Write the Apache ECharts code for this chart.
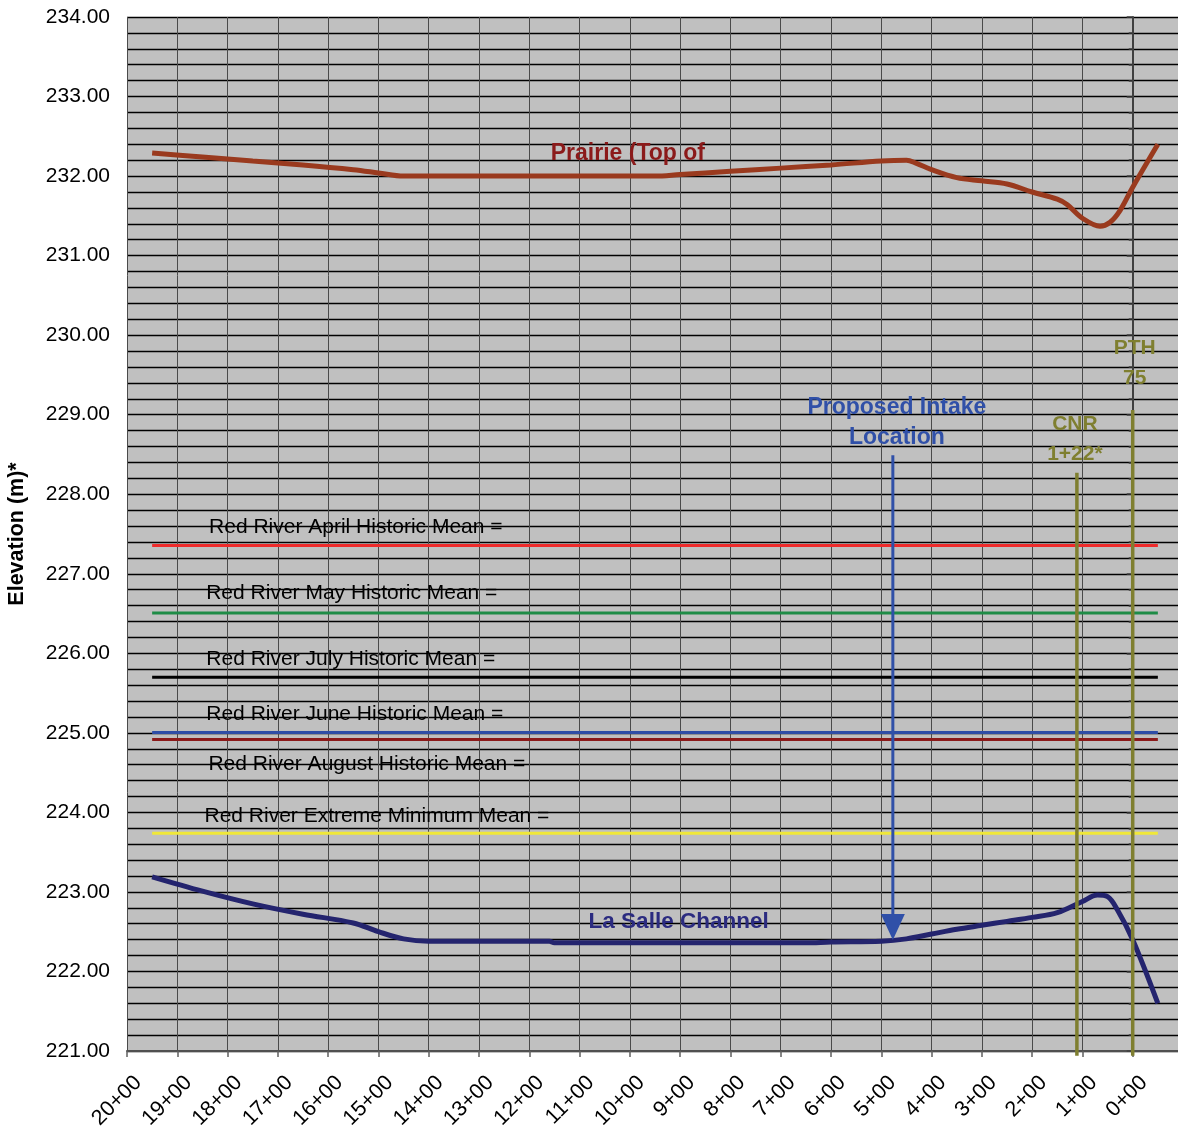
<!DOCTYPE html>
<html>
<head>
<meta charset="utf-8">
<script src="https://cdn.jsdelivr.net/npm/echarts@6/dist/echarts.min.js"></script>
<style>
html,body{margin:0;padding:0;background:#ffffff;}
#chart{width:1178px;height:1132px;}
</style>
</head>
<body>
<div id="chart"></div>
<script>
// ---- data ----
const prairieStations = [19.5, 18.5, 17.5, 16.5, 15.5, 15.0, 14.5, 14.0, 13.0, 12.0, 11.0, 10.0, 9.5, 9.0, 8.0, 7.0, 6.0, 5.0, 4.5, 4.3, 4.0, 3.5, 3.0, 2.5, 2.0, 1.5, 1.3, 1.0, 0.65, 0.45, 0.25, 0.0, -0.5];
const prairieElev     = [232.29, 232.24, 232.19, 232.14, 232.08, 232.04, 232.00, 232.00, 232.00, 232.00, 232.00, 232.00, 232.00, 232.02, 232.06, 232.10, 232.14, 232.19, 232.20, 232.16, 232.08, 231.98, 231.94, 231.90, 231.80, 231.71, 231.64, 231.47, 231.37, 231.42, 231.57, 231.86, 232.40];

const laSalleStations = [19.5, 18.5, 17.5, 16.5, 15.5, 15.0, 14.5, 14.0, 13.0, 12.0, 11.6, 11.5, 10.0, 9.0, 8.0, 7.0, 6.5, 6.0, 5.0, 4.5, 4.0, 3.5, 3.0, 2.5, 2.0, 1.5, 1.0, 0.7, 0.5, 0.3, 0.0, -0.5];
const laSalleElev     = [223.19, 223.01, 222.85, 222.72, 222.61, 222.50, 222.41, 222.38, 222.38, 222.38, 222.38, 222.36, 222.36, 222.36, 222.36, 222.36, 222.36, 222.37, 222.38, 222.41, 222.47, 222.53, 222.58, 222.63, 222.68, 222.74, 222.88, 222.96, 222.94, 222.77, 222.40, 221.60];

const meanNames  = ['Red River April Historic Mean =', 'Red River May Historic Mean =', 'Red River July Historic Mean =', 'Red River June Historic Mean =', 'Red River August Historic Mean =', 'Red River Extreme Minimum Mean ='];
const meanValues = [227.354, 226.507, 225.700, 225.004, 224.917, 223.738];
const meanFrom = 19.5;
const meanTo = -0.5;

const cnrStation = 1.11;
const cnrTop = 228.27;
const pthStation = 0.0;
const pthTop = 229.06;
const crossingBottom = 220.94;

const intakeStation = 4.77;
const intakeTop = 228.49;
const intakeTip = 222.56;

const stationTicks = [20, 19, 18, 17, 16, 15, 14, 13, 12, 11, 10, 9, 8, 7, 6, 5, 4, 3, 2, 1, 0];

// ---- styles ----
const FONT = 'Liberation Sans, Arial, sans-serif';
const meanColors = ['#EE2A2A', '#1E8C46', '#000000', '#2E4DA6', '#8B1A1A', '#F0E838'];
const meanLabelAt = [[15.45, 227.58], [15.53, 226.75], [15.55, 225.92], [15.47, 225.24], [15.23, 224.61], [15.03, 223.95]];

function pairs(xs, ys) { return xs.map((x, i) => [x, ys[i]]); }

const series = [];

series.push({
  name: 'Prairie (Top of Bank)*', type: 'line', smooth: 0.35, symbol: 'none',
  data: pairs(prairieStations, prairieElev),
  lineStyle: { color: '#9A3A1E', width: 5 }, z: 5
});
series.push({
  name: 'La Salle Channel', type: 'line', smooth: 0.35, symbol: 'none',
  data: pairs(laSalleStations, laSalleElev),
  lineStyle: { color: '#24246E', width: 5 }, z: 5
});
meanValues.forEach((v, i) => {
  series.push({
    name: meanNames[i], type: 'line', symbol: 'none',
    data: [[meanFrom, v], [meanTo, v]],
    lineStyle: { color: meanColors[i], width: 3 }, z: 4
  });
});
// crossings
series.push({
  name: 'CNR', type: 'line', symbol: 'none', clip: false,
  data: [[cnrStation, crossingBottom], [cnrStation, cnrTop]],
  lineStyle: { color: '#7F7F30', width: 3.5 }, z: 6
});
series.push({
  name: 'PTH 75', type: 'line', symbol: 'none', clip: false,
  data: [[pthStation, crossingBottom], [pthStation, pthTop]],
  lineStyle: { color: '#7F7F30', width: 3.5 }, z: 6
});
// intake arrow
series.push({
  name: 'Proposed Intake', type: 'line', symbol: 'none', showSymbol: true,
  data: [[intakeStation, intakeTop], { value: [intakeStation, intakeTip], symbol: 'triangle', symbolSize: [24, 26], symbolRotate: 180, itemStyle: { color: '#3050A8' } }],
  lineStyle: { color: '#3050A8', width: 3 }, z: 7
});

// annotations
const annot = [];
meanNames.forEach((n, i) => {
  annot.push({ value: meanLabelAt[i], label: { formatter: n, color: '#000000', fontSize: 21, fontWeight: 'normal' } });
});
annot.push({ value: [10.04, 232.28], label: { formatter: 'Prairie (Top of', color: '#8B1A1A', fontSize: 23, fontWeight: 'bold' } });
annot.push({ value: [9.03, 222.62], label: { formatter: 'La Salle Channel', color: '#2B2B80', fontSize: 22.5, fontWeight: 'bold' } });
annot.push({ value: [4.69, 228.90], label: { formatter: 'Proposed Intake\nLocation', color: '#3050A8', fontSize: 23, fontWeight: 'bold', lineHeight: 30 } });
annot.push({ value: [1.15, 228.69], label: { formatter: 'CNR\n1+22*', color: '#7F7F30', fontSize: 21, fontWeight: 'bold', lineHeight: 30 } });
annot.push({ value: [-0.04, 229.65], label: { formatter: 'PTH\n75', color: '#7F7F30', fontSize: 21, fontWeight: 'bold', lineHeight: 30 } });

series.push({
  name: 'labels', type: 'scatter', symbolSize: 0, silent: true, z: 8,
  itemStyle: { opacity: 1 },
  label: { show: true, position: 'inside', opacity: 1, fontFamily: FONT, align: 'center', verticalAlign: 'middle', textBorderWidth: 0, textBorderColor: 'transparent', textShadowBlur: 0 },
  data: annot
});

const option = {
  animation: false,
  backgroundColor: '#ffffff',
  grid: { left: 127, top: 17, width: 1056, height: 1034, show: true, backgroundColor: '#C0C0C0', borderWidth: 0, containLabel: false, outerBoundsMode: 'none' },
  xAxis: {
    type: 'value', inverse: true, min: -1, max: 20, interval: 1,
    axisLine: { show: true, onZero: false, lineStyle: { color: '#505050', width: 2 } },
    axisTick: { show: true, length: 6, lineStyle: { color: '#606060', width: 1.5 } },
    splitLine: { show: true, lineStyle: { color: '#4A4A4A', width: 1 } },
    axisLabel: {
      rotate: 45, fontSize: 21.5, fontFamily: FONT, color: '#000', margin: 17,
      verticalAlign: 'top', lineHeight: 32,
      formatter: v => (stationTicks.indexOf(v) >= 0 ? v + '+00' : '')
    }
  },
  yAxis: {
    type: 'value', min: 221, max: 234, interval: 1,
    name: 'Elevation (m)*', nameLocation: 'middle', nameGap: 99, nameRotate: 90,
    nameTextStyle: { fontSize: 21.5, fontWeight: 'bold', fontFamily: FONT, color: '#000' },
    axisLine: { show: true, lineStyle: { color: '#404040', width: 2 } },
    axisTick: { show: true, length: 6, lineStyle: { color: '#404040', width: 1.5 } },
    minorTick: { show: true, splitNumber: 5, length: 4, lineStyle: { color: '#404040', width: 1.5 } },
    splitLine: { show: true, lineStyle: { color: '#000000', width: 1.3 } },
    minorSplitLine: { show: true, lineStyle: { color: '#000000', width: 1.3 } },
    axisLabel: { fontSize: 21, fontFamily: FONT, color: '#000', margin: 17, formatter: v => v.toFixed(2) }
  },
  series: series
};

const chart = echarts.init(document.getElementById('chart'));
chart.setOption(option);
</script>
</body>
</html>
